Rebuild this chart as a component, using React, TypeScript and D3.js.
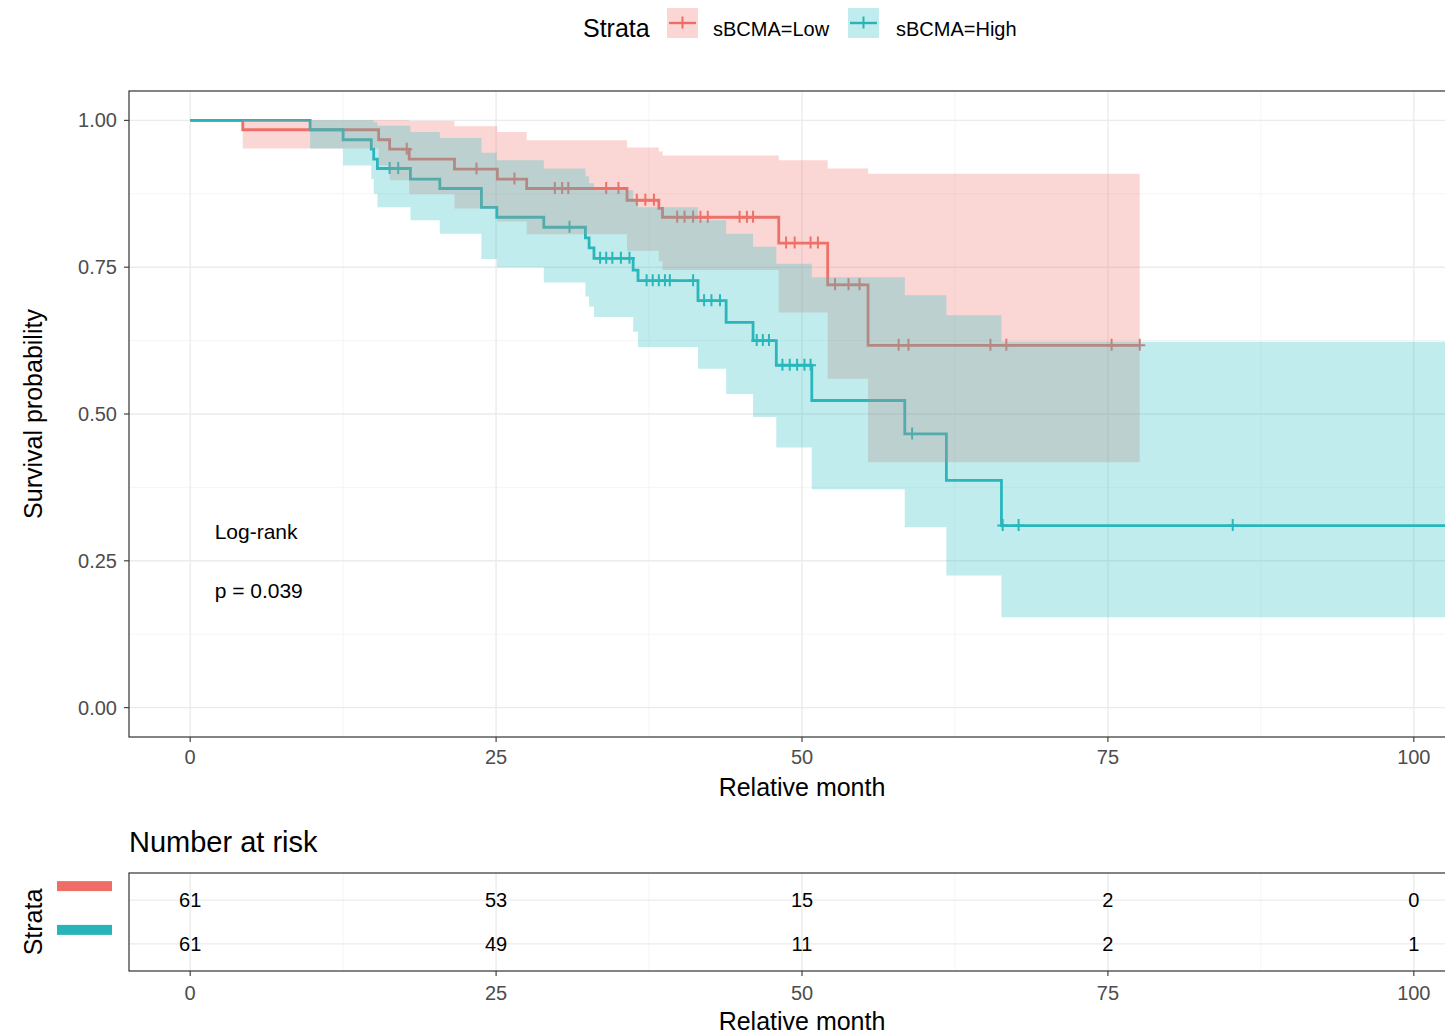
import React from "react";
import * as d3 from "d3";

// Kaplan–Meier estimates, sBCMA = Low
const lowTime = [0, 4.3, 15.4, 16.3, 17.9, 21.6, 25.1, 27.5, 35.7, 38.3, 38.6, 48.1, 52.1, 55.4, 77.6];
const lowSurv = [1, 0.984, 0.967, 0.951, 0.934, 0.917, 0.9, 0.884, 0.864, 0.85, 0.835, 0.791, 0.72, 0.617, 0.617];
const lowUpper = [1, 1, 1, 1, 0.999, 0.99, 0.98, 0.966, 0.954, 0.947, 0.94, 0.932, 0.918, 0.909, 0.909];
const lowLower = [1, 0.952, 0.923, 0.898, 0.874, 0.85, 0.828, 0.806, 0.778, 0.76, 0.745, 0.673, 0.56, 0.418, 0.418];
const lowCensor = [17.7, 23.4, 26.5, 29.8, 30.4, 30.9, 34.0, 35.0, 36.5, 37.2, 37.9, 39.8, 40.4, 41.1, 41.7, 42.3, 44.9, 45.5, 46.0, 48.7, 49.4, 50.7, 51.3, 52.7, 53.8, 54.7, 57.9, 58.7, 65.4, 66.7, 75.3, 77.6];

// Kaplan–Meier estimates, sBCMA = High
const highTime = [0, 9.8, 12.5, 14.8, 15.0, 15.3, 18.0, 20.4, 23.8, 25.06, 28.9, 32.3, 32.6, 33.0, 36.2, 36.6, 41.5, 43.8, 46.0, 47.9, 50.8, 58.4, 61.8, 66.3, 104];
const highSurv = [1, 0.984, 0.967, 0.951, 0.934, 0.918, 0.9, 0.884, 0.852, 0.835, 0.818, 0.8, 0.783, 0.765, 0.745, 0.727, 0.693, 0.656, 0.625, 0.583, 0.523, 0.466, 0.387, 0.31, 0.31];
const highUpper = [1, 1, 1, 1, 0.997, 0.991, 0.98, 0.97, 0.945, 0.932, 0.918, 0.905, 0.893, 0.881, 0.866, 0.852, 0.83, 0.807, 0.785, 0.756, 0.733, 0.702, 0.668, 0.623, 0.623];
const highLower = [1, 0.952, 0.923, 0.9, 0.875, 0.852, 0.83, 0.807, 0.764, 0.75, 0.724, 0.7, 0.683, 0.665, 0.64, 0.614, 0.577, 0.534, 0.495, 0.443, 0.372, 0.307, 0.225, 0.154, 0.154];
const highCensor = [16.3, 17.0, 31.0, 33.5, 34.0, 34.5, 35.2, 35.9, 37.3, 37.8, 38.3, 38.8, 39.2, 41.1, 42.0, 42.6, 43.3, 46.3, 46.8, 47.3, 48.4, 49.0, 49.6, 50.2, 50.7, 59.0, 66.4, 67.7, 85.2];

// Number at risk table
const riskTimes = [0, 25, 50, 75, 100];
const riskLow = [61, 53, 15, 2, 0];
const riskHigh = [61, 49, 11, 2, 1];

const strataNames = ["sBCMA=Low", "sBCMA=High"];
const strataColors = ["#EE6D66", "#27B4B9"];
const ribbonColors = ["#F07A72", "#2FBFC4"];

const xTicks = [0, 25, 50, 75, 100];
const xMinor = [12.5, 37.5, 62.5, 87.5];
const yTicks = [0, 0.25, 0.5, 0.75, 1];
const yMinor = [0.125, 0.375, 0.625, 0.875];

const FONT = "'Liberation Sans', Arial, Helvetica, sans-serif";

type Series = {
  time: number[];
  surv: number[];
  upper: number[];
  lower: number[];
  censor: number[];
  color: string;
  fill: string;
};

const series: Series[] = [
  { time: lowTime, surv: lowSurv, upper: lowUpper, lower: lowLower, censor: lowCensor, color: strataColors[0], fill: ribbonColors[0] },
  { time: highTime, surv: highSurv, upper: highUpper, lower: highLower, censor: highCensor, color: strataColors[1], fill: ribbonColors[1] },
];

function survAt(s: Series, t: number) {
  let v = s.surv[0];
  for (let i = 0; i < s.time.length; i++) {
    if (s.time[i] <= t) v = s.surv[i];
  }
  return v;
}

export default function App() {
  const W = 1445;
  const H = 1034;
  const pL = 129, pR = 1475, pT = 91, pB = 737;
  const x = d3.scaleLinear().domain([-5, 105]).range([pL, pR]);
  const y = d3.scaleLinear().domain([-0.05, 1.05]).range([pB, pT]);

  // risk table panel
  const rT = 873, rB = 971;
  const yr = d3.scalePoint<number>().domain([0, 1]).range([rT, rB]).padding(0.62);

  const line = d3.line<number>().curve(d3.curveStepAfter);
  const area = d3.area<number>().curve(d3.curveStepAfter);

  const plus = (cx: number, cy: number, r: number, color: string, key: string) => (
    <path
      key={key}
      d={`M${cx - r},${cy}H${cx + r}M${cx},${cy - r - 1}V${cy + r}`}
      stroke={color}
      strokeWidth={2}
      fill="none"
    />
  );

  return (
    <svg
      width={W}
      height={H}
      style={{ position: "absolute", left: 0, top: 0, background: "#fff" }}
      fontFamily={FONT}
    >
      <defs>
        <clipPath id="panelClip">
          <rect x={pL} y={pT} width={pR - pL} height={pB - pT} />
        </clipPath>
        <clipPath id="riskClip">
          <rect x={pL} y={rT} width={pR - pL} height={rB - rT} />
        </clipPath>
      </defs>

      {/* Legend */}
      <text x={583} y={37} fontSize={25} fill="#000">Strata</text>
      {strataNames.map((name, i) => {
        const bx = i === 0 ? 667 : 848;
        const lx = i === 0 ? 713 : 896;
        const by = 8;
        const c = strataColors[i];
        return (
          <g key={name}>
            <rect x={bx} y={by} width={31} height={30} fill={ribbonColors[i]} fillOpacity={0.3} />
            <line x1={bx + 2} x2={bx + 29} y1={by + 15} y2={by + 15} stroke={c} strokeWidth={2.4} />
            {plus(bx + 15.5, by + 15, 5.5, c, "k" + i)}
            <text x={lx} y={36} fontSize={20} fill="#000">{name}</text>
          </g>
        );
      })}

      {/* Main panel background grid */}
      <rect x={pL} y={pT} width={pR - pL} height={pB - pT} fill="#fff" />
      <g clipPath="url(#panelClip)">
        {xMinor.map((t) => (
          <line key={"xm" + t} x1={x(t)} x2={x(t)} y1={pT} y2={pB} stroke="#F2F2F2" strokeWidth={0.8} />
        ))}
        {yMinor.map((t) => (
          <line key={"ym" + t} x1={pL} x2={pR} y1={y(t)} y2={y(t)} stroke="#F2F2F2" strokeWidth={0.8} />
        ))}
        {xTicks.map((t) => (
          <line key={"xg" + t} x1={x(t)} x2={x(t)} y1={pT} y2={pB} stroke="#EBEBEB" strokeWidth={1.4} />
        ))}
        {yTicks.map((t) => (
          <line key={"yg" + t} x1={pL} x2={pR} y1={y(t)} y2={y(t)} stroke="#EBEBEB" strokeWidth={1.4} />
        ))}

        {/* survival curves and censor marks */}
        {series.map((s, si) => (
          <g key={"s" + si}>
            <path
              d={line.x((_, i) => x(s.time[i])).y((_, i) => y(s.surv[i]))(s.surv) || ""}
              fill="none"
              stroke={s.color}
              strokeWidth={2.8}
            />
            {s.censor.map((t, ci) => plus(x(t), y(survAt(s, t)), 5.5, s.color, `c${si}-${ci}`))}
          </g>
        ))}

        {/* confidence ribbons drawn over the curves */}
        {series.map((s, si) => (
          <path
            key={"r" + si}
            d={
              area
                .x((_, i) => x(s.time[i]))
                .y0((_, i) => y(s.lower[i]))
                .y1((_, i) => y(s.upper[i]))(s.surv) || ""
            }
            fill={s.fill}
            fillOpacity={0.3}
            stroke="none"
          />
        ))}

        <text x={x(2)} y={y(0.3) + 8} fontSize={21} fill="#000">Log-rank</text>
        <text x={x(2)} y={y(0.2) + 8} fontSize={21} fill="#000">p = 0.039</text>
      </g>
      <rect x={pL} y={pT} width={pR - pL} height={pB - pT} fill="none" stroke="#333" strokeWidth={1.2} />

      {/* axes */}
      {yTicks.map((t) => (
        <g key={"yt" + t}>
          <line x1={pL - 5} x2={pL} y1={y(t)} y2={y(t)} stroke="#333" strokeWidth={1.1} />
          <text x={117} y={y(t) + 7} fontSize={20} fill="#4D4D4D" textAnchor="end">
            {d3.format(".2f")(t)}
          </text>
        </g>
      ))}
      {xTicks.map((t) => (
        <g key={"xt" + t}>
          <line x1={x(t)} x2={x(t)} y1={pB} y2={pB + 5} stroke="#333" strokeWidth={1.1} />
          <text x={x(t)} y={764} fontSize={20} fill="#4D4D4D" textAnchor="middle">{t}</text>
        </g>
      ))}
      <text x={x(50)} y={796} fontSize={25} fill="#000" textAnchor="middle">Relative month</text>
      <text
        transform={`translate(42, ${(pT + pB) / 2}) rotate(-90)`}
        fontSize={25}
        fill="#000"
        textAnchor="middle"
      >
        Survival probability
      </text>

      {/* Number at risk */}
      <text x={pL} y={852} fontSize={29} fill="#000">Number at risk</text>
      <rect x={pL} y={rT} width={pR - pL} height={rB - rT} fill="#fff" />
      <g clipPath="url(#riskClip)">
        {xMinor.map((t) => (
          <line key={"rxm" + t} x1={x(t)} x2={x(t)} y1={rT} y2={rB} stroke="#F2F2F2" strokeWidth={0.8} />
        ))}
        {xTicks.map((t) => (
          <line key={"rxg" + t} x1={x(t)} x2={x(t)} y1={rT} y2={rB} stroke="#EBEBEB" strokeWidth={1.4} />
        ))}
        {[0, 1].map((r) => (
          <line key={"ryg" + r} x1={pL} x2={pR} y1={yr(r)!} y2={yr(r)!} stroke="#EBEBEB" strokeWidth={1.4} />
        ))}
        {[riskLow, riskHigh].map((row, r) =>
          row.map((n, i) => (
            <text
              key={`n${r}-${i}`}
              x={x(riskTimes[i])}
              y={yr(r)! + 7}
              fontSize={20}
              fill="#000"
              textAnchor="middle"
            >
              {n}
            </text>
          ))
        )}
      </g>
      <rect x={pL} y={rT} width={pR - pL} height={rB - rT} fill="none" stroke="#333" strokeWidth={1.2} />
      {[0, 1].map((r) => (
        <rect key={"bar" + r} x={57} y={yr(r)! - 19} width={55} height={10} fill={strataColors[r]} />
      ))}
      <text
        transform={`translate(42, ${(rT + rB) / 2}) rotate(-90)`}
        fontSize={25}
        fill="#000"
        textAnchor="middle"
      >
        Strata
      </text>
      {xTicks.map((t) => (
        <g key={"rxt" + t}>
          <line x1={x(t)} x2={x(t)} y1={rB} y2={rB + 5} stroke="#333" strokeWidth={1.1} />
          <text x={x(t)} y={1000} fontSize={20} fill="#4D4D4D" textAnchor="middle">{t}</text>
        </g>
      ))}
      <text x={x(50)} y={1030} fontSize={25} fill="#000" textAnchor="middle">Relative month</text>
    </svg>
  );
}
